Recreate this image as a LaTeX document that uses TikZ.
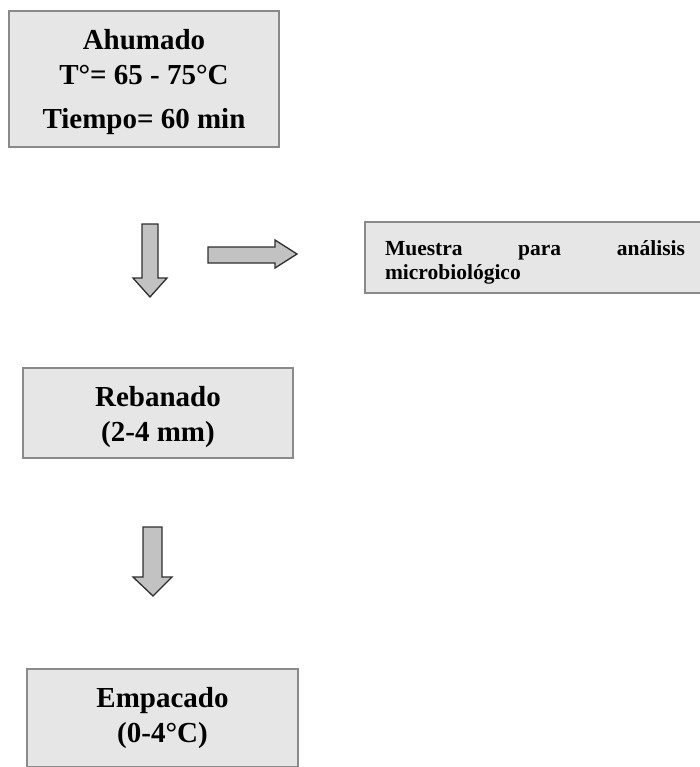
\documentclass[tikz,border=0pt]{standalone}
\usepackage{fontspec}
\setmainfont{Liberation Serif}
\definecolor{boxfill}{HTML}{E6E6E6}
\definecolor{boxline}{HTML}{8A8A8A}
\definecolor{arrfill}{HTML}{C2C2C2}
\definecolor{arrline}{HTML}{2E2E2E}
\begin{document}
\begin{tikzpicture}[x=1pt,y=-1pt,
  procbox/.style={draw=boxline, line width=1.4pt, fill=boxfill, inner sep=0pt},
  proctext/.style={inner sep=0pt, align=center, font=\bfseries\fontsize{29}{35}\selectfont},
  notetext/.style={inner sep=0pt, text width=300pt, align=left, font=\bfseries\fontsize{21.5}{24}\selectfont},
  blockarrow/.style={draw=arrline, line width=1.3pt, fill=arrfill, line join=miter}]
\useasboundingbox (0,0) rectangle (700,767);

% process boxes
\node[procbox, minimum width=270pt, minimum height=136pt] (ahu) at (144,79) {};
\node[proctext] (ahut) at ([yshift=-3pt]ahu.center) {Ahumado\\T°= 65 - 75°C\\[9pt]Tiempo= 60 min};

\node[procbox, minimum width=270pt, minimum height=90pt] (reb) at (158,413) {};
\node[proctext] (rebt) at ([yshift=-4pt]reb.center) {Rebanado\\(2-4 mm)};

\node[procbox, minimum width=271pt, minimum height=98pt] (emp) at (162.5,718) {};
\node[proctext] (empt) at (emp.center) {Empacado\\(0-4°C)};

% sample box
\node[procbox, minimum width=337pt, minimum height=71pt] (mue) at (533.5,257.5) {};
\node[notetext] (muet) at (535,262) {Muestra\hfill para\hfill análisis\\microbiológico};

% block arrows
\draw[blockarrow] (142,224) -- (158,224) -- (158,278) -- (167,278) -- (150,297)
  -- (133,278) -- (142,278) -- cycle;
\draw[blockarrow] (208,247) -- (275,247) -- (275,240) -- (297,254) -- (275,268)
  -- (275,263) -- (208,263) -- cycle;
\draw[blockarrow] (143,527) -- (162,527) -- (162,577) -- (172,577) -- (153,596)
  -- (133,577) -- (143,577) -- cycle;
\end{tikzpicture}
\end{document}
